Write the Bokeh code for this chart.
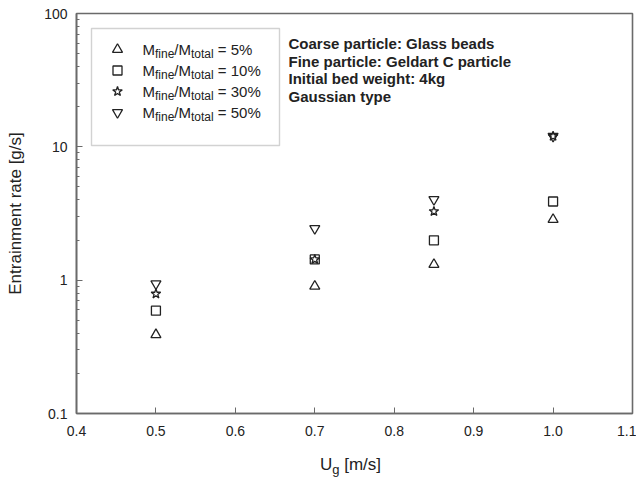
from bokeh.plotting import figure
from bokeh.models import (Label, BoxAnnotation, FixedTicker, NumeralTickFormatter,
                          CustomJSTickFormatter, Range1d, Div)
from bokeh.layouts import column
from bokeh.embed import file_html
from bokeh.resources import INLINE
import math

# ---- data ----
ug = [0.5, 0.7, 0.85, 1.0]
rate_5 = [0.39, 0.90, 1.31, 2.85]
rate_10 = [0.59, 1.43, 1.99, 3.89]
rate_30 = [0.79, 1.43, 3.28, 12.0]
rate_50 = [0.94, 2.44, 4.03, 12.0]
series_pct = ["5%", "10%", "30%", "50%"]
series_markers = ["triangle", "square", "star", "inverted_triangle"]
x_ticks = [0.4, 0.5, 0.6, 0.7, 0.8, 0.9, 1.0, 1.1]
y_ticks = [0.1, 1, 10, 100]
y_minor = [m * d for d in (0.1, 1, 10) for m in range(2, 10)]
notes = ["Coarse particle: Glass beads",
         "Fine particle:  Geldart C particle",
         "Initial bed weight: 4kg",
         "Gaussian type"]

# ---- layout (pixel frame) ----
W, H = 636, 480
PH = 450  # figure height; an x-label strip of 30 px sits below it
FL, FR, FT, FB = 76, 632, 13, 413
X0, X1 = 0.4, 1.1
Y0, Y1 = 0.1, 100.0
FONT = "Liberation Sans"
INK = "#222222"
AXC = "#6a6a6a"

def xd(px):
    return X0 + (px - FL) / (FR - FL) * (X1 - X0)

def yd(py):
    lo, hi = math.log10(Y0), math.log10(Y1)
    return 10 ** (hi - (py - FT) / (FB - FT) * (hi - lo))

p = figure(width=W, height=PH, x_range=Range1d(X0, X1), y_range=Range1d(Y0, Y1),
           y_axis_type="log", output_backend="svg", toolbar_location=None,
           min_border_left=FL, min_border_right=W - FR, min_border_top=FT,
           min_border_bottom=PH - FB)
p.background_fill_color = "white"
p.border_fill_color = "white"
p.outline_line_color = AXC
p.outline_line_width = 1.6
p.grid.visible = False

# x axis
xa = p.xaxis[0]
xa.ticker = FixedTicker(ticks=x_ticks, minor_ticks=[])
xa.formatter = NumeralTickFormatter(format="0.0")
xa.axis_label = None
# y axis
ya = p.yaxis[0]
ya.ticker = FixedTicker(ticks=y_ticks, minor_ticks=y_minor)
ya.formatter = CustomJSTickFormatter(code="return String(Math.round(tick*10)/10);")
ya.axis_label = "Entrainment rate [g/s]"
ya.axis_label_text_font = FONT
ya.axis_label_text_font_size = "17px"
ya.axis_label_text_font_style = "normal"
ya.axis_label_text_color = INK
ya.axis_label_standoff = 16
for ax in (xa, ya):
    ax.axis_line_color = AXC
    ax.axis_line_width = 1.6
    ax.major_tick_line_color = AXC
    ax.minor_tick_line_color = AXC
    ax.major_tick_in = 6
    ax.major_tick_out = 0
    ax.minor_tick_in = 3
    ax.minor_tick_out = 0
    ax.major_label_text_font = FONT
    ax.major_label_text_font_size = "14px"
    ax.major_label_text_color = INK
xa.major_label_standoff = 12
ya.major_label_standoff = 9

# data markers
all_series = [rate_5, rate_10, rate_30, rate_50]
for vals, mk in zip(all_series, series_markers):
    sz = 10 if mk != "square" else 9
    p.scatter(ug, vals, marker=mk, size=sz, fill_color=None,
              line_color=INK, line_width=1.3)

# legend box (manual, for subscripts)
p.add_layout(BoxAnnotation(left=xd(91), right=xd(279), top=yd(28), bottom=yd(145),
                           fill_alpha=0, line_color=AXC, line_width=1.4))
row_y = [49, 70, 91, 112]
p.scatter([xd(117)] * 4, [yd(r) for r in row_y], marker=series_markers,
          size=[10, 9, 10, 10], fill_color=None, line_color=INK, line_width=1.3)

MAIN, SUB = 15, 12
def w(txt, size):
    widths = {"M": 833, "f": 278, "i": 222, "n": 556, "e": 556, "/": 278, "t": 278,
              "o": 556, "a": 556, "l": 222, " ": 278, "=": 584, "%": 889}
    return sum(widths.get(c, 556) for c in txt) * size / 1000.0

def add_text(px, py, txt, size, bold=False):
    p.add_layout(Label(x=xd(px), y=yd(py), text=txt, text_font=FONT,
                       text_font_size=f"{size}px", text_color=INK,
                       text_font_style="bold" if bold else "normal",
                       text_baseline="middle", text_align="left"))

for r, pct in zip(row_y, series_pct):
    x = 142
    parts = [("M", MAIN, 0), ("fine", SUB, 4), ("/M", MAIN, 0), ("total", SUB, 4),
             ("= " + pct, MAIN, 0)]
    for txt, size, dy in parts:
        if txt.startswith("="):
            x += w(" ", size)
        add_text(x, r + dy, txt, size)
        x += w(txt, size)

# annotation block
for i, t in enumerate(notes):
    add_text(288, 43 + i * 17.7, t, 15, bold=True)

# x axis label with subscript (HTML strip below the figure)
xlabel = Div(
    text=(f'<div style="padding-left:320px; line-height:30px; font-family:{FONT}, sans-serif; '
          f'font-size:17px; color:{INK}; white-space:nowrap;">'
          'U<sub style="font-size:13px; line-height:0;">g</sub> [m/s]</div>'),
    width=W, height=H - PH, margin=(0, 0, 0, 0))

layout = column(p, xlabel, spacing=0, margin=(0, 0, 0, 0))
open("out.html", "w").write(file_html(layout, INLINE))
